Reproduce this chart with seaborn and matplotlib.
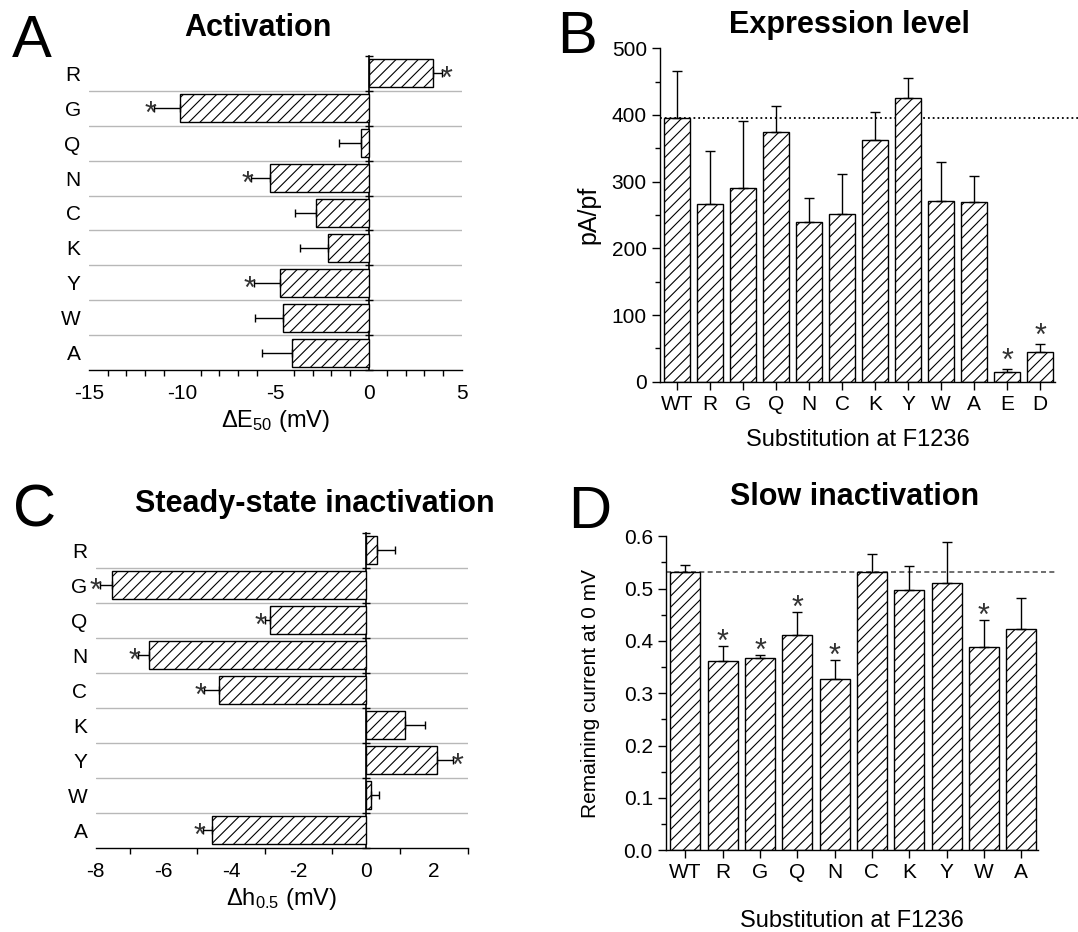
import numpy as np
import pandas as pd
import matplotlib
matplotlib.use('Agg')
import matplotlib.pyplot as plt
import seaborn as sns

# =============================================================================
# Data
# =============================================================================

# Panel A - activation shift
act_labels = ['R', 'G', 'Q', 'N', 'C', 'K', 'Y', 'W', 'A']
act_shift = [3.45, -10.1, -0.39, -5.28, -2.81, -2.2, -4.74, -4.58, -4.11]
act_err = [0.5, 1.4, 1.2, 1.0, 1.12, 1.47, 1.4, 1.5, 1.63]
act_sig = [1, 1, 0, 1, 0, 0, 1, 0, 0]

# Panel B - expression level
expr_labels = ['WT', 'R', 'G', 'Q', 'N', 'C', 'K', 'Y', 'W', 'A', 'E', 'D']
expr_mean = [395, 266, 291, 374, 239, 251, 363, 426, 271, 269, 14, 45]
expr_err = [71, 80, 100, 40, 37, 61, 41, 29, 58, 40, 5, 12]
expr_sig = [0, 0, 0, 0, 0, 0, 0, 0, 0, 0, 1, 1]

# Panel C - steady-state inactivation shift
ssi_labels = ['R', 'G', 'Q', 'N', 'C', 'K', 'Y', 'W', 'A']
ssi_shift = [0.32, -7.51, -2.85, -6.42, -4.35, 1.16, 2.08, 0.13, -4.55]
ssi_err = [0.53, 0.36, 0.15, 0.32, 0.44, 0.57, 0.49, 0.26, 0.27]
ssi_sig = [0, 1, 1, 1, 1, 0, 1, 0, 1]

# Panel D - slow inactivation
slow_labels = ['WT', 'R', 'G', 'Q', 'N', 'C', 'K', 'Y', 'W', 'A']
slow_mean = [0.531, 0.361, 0.367, 0.411, 0.327, 0.532, 0.497, 0.511, 0.389, 0.423]
slow_err = [0.014, 0.029, 0.006, 0.044, 0.036, 0.035, 0.046, 0.079, 0.051, 0.059]
slow_sig = [0, 1, 1, 1, 1, 0, 0, 0, 1, 0]

# =============================================================================
# Style
# =============================================================================
sns.set_theme(style='white')
plt.rcParams['font.family'] = ['Liberation Sans', 'DejaVu Sans']
plt.rcParams['mathtext.default'] = 'regular'
plt.rcParams['axes.unicode_minus'] = False
plt.rcParams['hatch.linewidth'] = 0.8
plt.rcParams['axes.linewidth'] = 1.0
plt.rcParams['axes.edgecolor'] = 'black'
plt.rcParams['text.color'] = 'black'
plt.rcParams['axes.labelcolor'] = 'black'
plt.rcParams['xtick.color'] = 'black'
plt.rcParams['ytick.color'] = 'black'

TICK_FS = 15
LABEL_FS = 17
STAR_C = '#333333'


def hbar_panel(ax, labels, vals, errs, sig, xlim, major):
    df = pd.DataFrame({'sub': labels, 'val': vals})
    sns.barplot(data=df, x='val', y='sub', orient='h', color='white', saturation=1,
                edgecolor='black', linewidth=1, hatch='///', width=0.8, ax=ax, zorder=2)
    vals = np.array(vals)
    errs = np.array(errs)
    pos = np.arange(len(labels))
    lo = np.where(vals < 0, errs, 0)
    hi = np.where(vals > 0, errs, 0)
    ax.errorbar(vals, pos, xerr=[lo, hi], fmt='none', ecolor='black', elinewidth=1,
                capsize=3, capthick=1, zorder=3)
    # significance stars
    for p, v, e, s in zip(pos, vals, errs, sig):
        if s:
            d = np.sign(v)
            ax.annotate('*', (v + d * e, p), xytext=(d * 3, -5), textcoords='offset points',
                        ha='center', va='center', fontsize=22, color=STAR_C, zorder=4)
    # row separators
    for b in np.arange(0.5, len(labels) - 1):
        ax.axhline(b, color='#b8b8b8', lw=1, zorder=0)
    ax.set_xlim(xlim)
    ax.set_ylim(len(labels) - 0.5, -0.5)
    ax.set_xticks(np.arange(xlim[0], xlim[1] + 0.1, major))
    ax.set_xticks(np.arange(xlim[0], xlim[1] + 0.1, 1), minor=True)
    ax.tick_params(axis='x', which='major', direction='out', length=7, width=1, labelsize=TICK_FS, pad=3)
    ax.tick_params(axis='x', which='minor', direction='out', length=4, width=1, bottom=True)
    ax.tick_params(axis='y', length=0, labelsize=TICK_FS, pad=6)
    for s in ['top', 'right', 'left']:
        ax.spines[s].set_visible(False)
    ax.set_ylabel('')
    # zero line with row ticks
    frac = -xlim[0] / (xlim[1] - xlim[0])
    sec = ax.secondary_yaxis(frac)
    sec.set_yticks(np.arange(len(labels) + 1) - 0.5)
    sec.tick_params(direction='inout', length=6, width=1, labelleft=False, labelright=False)
    for sp in sec.spines.values():
        sp.set_linewidth(1.2)


def vbar_panel(ax, labels, vals, errs, sig, ylim, major, minor, star_off):
    df = pd.DataFrame({'sub': labels, 'val': vals})
    sns.barplot(data=df, x='sub', y='val', color='white', saturation=1,
                edgecolor='black', linewidth=1, hatch='///', width=0.8, ax=ax, zorder=2)
    pos = np.arange(len(labels))
    ax.errorbar(pos, vals, yerr=[np.zeros(len(vals)), errs], fmt='none', ecolor='black',
                elinewidth=1, capsize=3.5, capthick=1, zorder=3)
    for p, v, e, s in zip(pos, vals, errs, sig):
        if s:
            ax.annotate('*', (p, v + e), xytext=(0, star_off), textcoords='offset points',
                        ha='center', va='center', fontsize=22, color=STAR_C, zorder=4)
    ax.set_ylim(ylim)
    ax.set_xlim(-0.52, len(labels) - 0.55)
    ax.set_yticks(np.arange(ylim[0], ylim[1] + major / 10, major))
    ax.set_yticks(np.arange(ylim[0], ylim[1] + minor / 10, minor), minor=True)
    ax.tick_params(axis='y', which='major', direction='out', length=6, width=1, labelsize=TICK_FS, left=True)
    ax.tick_params(axis='y', which='minor', direction='out', length=3.5, width=1, left=True)
    ax.tick_params(axis='x', direction='out', length=6, width=1, labelsize=TICK_FS, bottom=True)
    for s in ['top', 'right']:
        ax.spines[s].set_visible(False)


fig = plt.figure(figsize=(10.78, 9.32), dpi=100)
W, H = 1078, 932


def px_axes(left, right, top, bottom):
    return fig.add_axes([left / W, 1 - bottom / H, (right - left) / W, (bottom - top) / H])


# Panel A
ax1 = px_axes(89, 461.7, 56, 370)
hbar_panel(ax1, act_labels, act_shift, act_err, act_sig, (-15, 5), 5)
ax1.set_xlabel(r'$\Delta$E$_{50}$ (mV)', fontsize=LABEL_FS, labelpad=4)

# Panel B
ax2 = px_axes(660, 1055, 48.3, 381.7)
vbar_panel(ax2, expr_labels, expr_mean, expr_err, expr_sig, (0, 500), 100, 50, 5)
ax2.axhline(expr_mean[0], xmin=0, xmax=1.07, color='black', lw=1.3, ls=':', clip_on=False, zorder=1)
ax2.set_xlabel('Substitution at F1236', fontsize=LABEL_FS, labelpad=11)
ax2.set_ylabel('pA/pf', fontsize=18, labelpad=8)

# Panel C
ax3 = px_axes(95.7, 467.7, 532.7, 847.7)
hbar_panel(ax3, ssi_labels, ssi_shift, ssi_err, ssi_sig, (-8, 3), 2)
ax3.set_xlabel(r'$\Delta$h$_{0.5}$ (mV)', fontsize=LABEL_FS, labelpad=4)

# Panel D
ax4 = px_axes(666, 1038, 536.3, 850.3)
vbar_panel(ax4, slow_labels, slow_mean, slow_err, slow_sig, (0, 0.6), 0.1, 0.05, 2.5)
ax4.axhline(slow_mean[0], xmin=0, xmax=1.05, color='#555555', lw=1.2, ls=(0, (3, 2)), clip_on=False, zorder=1)
ax4.yaxis.set_major_formatter(matplotlib.ticker.FormatStrFormatter('%.1f'))
ax4.set_xlabel('Substitution at F1236', fontsize=LABEL_FS, labelpad=20)
ax4.set_ylabel('Remaining current at 0 mV', fontsize=15, labelpad=17)

# Panel letters and titles
for x, y, letter in [(12, 57, 'A'), (557, 53.3, 'B'), (13, 526.7, 'C'), (568, 528.3, 'D')]:
    fig.text(x / W, 1 - y / H, letter, fontsize=43, ha='left', va='baseline')

for x, y, title in [(258, 36, 'Activation'), (849, 32.7, 'Expression level'),
                    (315, 511.7, 'Steady-state inactivation'), (855, 505, 'Slow inactivation')]:
    fig.text(x / W, 1 - y / H, title, fontsize=22, fontweight='bold', ha='center', va='baseline')

plt.savefig('out.png', dpi=100)
